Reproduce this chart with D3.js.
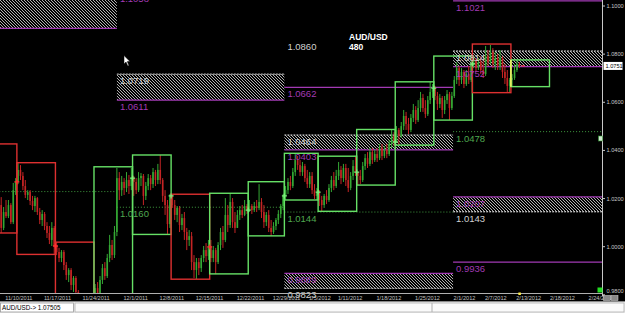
<!DOCTYPE html>
<html>
<head>
<meta charset="utf-8">
<title>AUD/USD 480</title>
<script src="https://cdn.jsdelivr.net/npm/d3@7"></script>
<style>
  html, body { margin: 0; padding: 0; background: #000; overflow: hidden; }
  svg { display: block; }
</style>
</head>
<body>
<div id="chart"></div>
<script>
// AUD/USD, 480 minute (8h) candles. bar 0 = first bar on screen (11/10/2011)
const firstOpen = 1.0173;

const closes = [
  1.0078, 1.0144, 1.0127, 1.0173, 1.0102, 1.0235, 1.0269,
  1.0319, 1.0294, 1.0252, 1.0215, 1.0227, 1.0190, 1.0169, 1.0202, 1.0144, 1.0111, 1.0136, 1.0086, 1.0057, 1.0028, 1.0078, 1.0003,
  0.9978, 0.9953, 0.9978, 0.9924, 0.9882, 0.9903, 0.9841, 0.9870, 0.9812, 0.9778, 0.9729, 0.9704, 0.9737, 0.9675, 0.9716, 0.9695,
  0.9828, 0.9807, 0.9862, 0.9911, 0.9878, 0.9953, 1.0007, 0.9965, 1.0061, 1.0285, 1.0235, 1.0269, 1.0244, 1.0277, 1.0252, 1.0285,
  1.0269, 1.0235, 1.0285, 1.0294, 1.0211, 1.0252, 1.0285, 1.0260, 1.0310, 1.0277, 1.0319, 1.0277, 1.0211, 1.0173, 1.0094, 1.0211,
  1.0173, 1.0132, 1.0161, 1.0090, 1.0119, 1.0061, 1.0028, 1.0044, 0.9936, 0.9903, 0.9936, 0.9911, 0.9953, 0.9986, 0.9961, 0.9999,
  0.9953, 0.9986, 0.9936, 1.0007, 1.0061, 1.0028, 1.0132, 1.0090, 1.0186, 1.0102, 1.0078, 1.0132, 1.0152, 1.0132, 1.0169, 1.0152,
  1.0169, 1.0152, 1.0169, 1.0161, 1.0186, 1.0144, 1.0102, 1.0132, 1.0078, 1.0061, 1.0086, 1.0111, 1.0136, 1.0169, 1.0211,
  1.0235, 1.0269, 1.0252, 1.0310, 1.0360, 1.0339, 1.0310, 1.0335, 1.0285, 1.0260, 1.0294, 1.0235, 1.0211, 1.0227,
  1.0194, 1.0173, 1.0211, 1.0194, 1.0244, 1.0277, 1.0252, 1.0294, 1.0319, 1.0285, 1.0327, 1.0277, 1.0244, 1.0294, 1.0335, 1.0310,
  1.0294, 1.0277, 1.0335, 1.0368, 1.0344, 1.0393, 1.0360, 1.0385, 1.0368, 1.0410, 1.0377, 1.0402, 1.0385, 1.0427, 1.0460, 1.0435,
  1.0485, 1.0460, 1.0501, 1.0543, 1.0510, 1.0485, 1.0535, 1.0568, 1.0526, 1.0576, 1.0618, 1.0576, 1.0551, 1.0609, 1.0643, 1.0659,
  1.0626, 1.0593, 1.0618, 1.0568, 1.0609, 1.0634, 1.0576, 1.0626, 1.0693, 1.0742, 1.0693, 1.0726, 1.0676, 1.0717, 1.0693, 1.0759,
  1.0776, 1.0742, 1.0767, 1.0734, 1.0717, 1.0792, 1.0767, 1.0809, 1.0759, 1.0784, 1.0751, 1.0784, 1.0726, 1.0701, 1.0668, 1.0693,
  1.0701, 1.0734, 1.0759, 1.0751
];

const highs = [
  1.0206, 1.0165, 1.0194, 1.0194, 1.0181, 1.0265, 1.0285,
  1.0348, 1.0339, 1.0310, 1.0277, 1.0235, 1.0235, 1.0211, 1.0211, 1.0206, 1.0161, 1.0152, 1.0144, 1.0102, 1.0086, 1.0102, 1.0086,
  1.0019, 0.9995, 0.9986, 0.9986, 0.9936, 0.9911, 0.9911, 0.9878, 0.9878, 0.9820, 0.9787, 0.9758, 0.9753, 0.9745, 0.9729, 0.9737,
  0.9845, 0.9853, 0.9878, 0.9928, 0.9936, 0.9970, 1.0049, 1.0028, 1.0086, 1.0327, 1.0310, 1.0294, 1.0285, 1.0310, 1.0298, 1.0327,
  1.0294, 1.0285, 1.0310, 1.0306, 1.0302, 1.0269, 1.0302, 1.0298, 1.0327, 1.0319, 1.0344, 1.0381, 1.0285, 1.0235, 1.0194, 1.0219,
  1.0218, 1.0194, 1.0169, 1.0169, 1.0136, 1.0144, 1.0078, 1.0069, 1.0061, 0.9965, 0.9953, 0.9953, 0.9965, 1.0003, 1.0015, 1.0028,
  1.0028, 1.0003, 0.9995, 1.0019, 1.0078, 1.0086, 1.0202, 1.0173, 1.0222, 1.0202, 1.0144, 1.0152, 1.0169, 1.0173, 1.0194, 1.0177,
  1.0194, 1.0177, 1.0186, 1.0194, 1.0260, 1.0202, 1.0173, 1.0144, 1.0152, 1.0111, 1.0102, 1.0119, 1.0152, 1.0177, 1.0219,
  1.0252, 1.0285, 1.0294, 1.0327, 1.0385, 1.0377, 1.0360, 1.0352, 1.0344, 1.0319, 1.0310, 1.0310, 1.0260, 1.0244,
  1.0235, 1.0211, 1.0219, 1.0235, 1.0260, 1.0294, 1.0310, 1.0319, 1.0352, 1.0335, 1.0344, 1.0344, 1.0327, 1.0310, 1.0360, 1.0373,
  1.0310, 1.0319, 1.0352, 1.0385, 1.0393, 1.0410, 1.0410, 1.0402, 1.0410, 1.0427, 1.0427, 1.0418, 1.0427, 1.0443, 1.0485, 1.0476,
  1.0501, 1.0493, 1.0518, 1.0568, 1.0560, 1.0535, 1.0551, 1.0593, 1.0584, 1.0609, 1.0643, 1.0634, 1.0609, 1.0626, 1.0684, 1.0676,
  1.0668, 1.0643, 1.0634, 1.0626, 1.0626, 1.0651, 1.0643, 1.0643, 1.0709, 1.0767, 1.0751, 1.0742, 1.0734, 1.0734, 1.0751, 1.0792,
  1.0792, 1.0784, 1.0784, 1.0792, 1.0776, 1.0834, 1.0817, 1.0838, 1.0825, 1.0809, 1.0801, 1.0817, 1.0792, 1.0759, 1.0734, 1.0701,
  1.0717, 1.0759, 1.0776, 1.0767
];

const lows = [
  1.0057, 1.0069, 1.0119, 1.0119, 1.0094, 1.0094, 1.0215,
  1.0260, 1.0277, 1.0235, 1.0202, 1.0194, 1.0173, 1.0152, 1.0144, 1.0132, 1.0094, 1.0086, 1.0069, 1.0036, 1.0011, 1.0003, 0.9970,
  0.9965, 0.9936, 0.9936, 0.9903, 0.9862, 0.9853, 0.9820, 0.9812, 0.9778, 0.9753, 0.9704, 0.9675, 0.9687, 0.9654, 0.9662, 0.9670,
  0.9680, 0.9787, 0.9795, 0.9845, 0.9862, 0.9870, 0.9936, 0.9945, 0.9953, 1.0044, 1.0194, 1.0211, 1.0215, 1.0227, 1.0219, 1.0235,
  1.0211, 1.0219, 1.0227, 1.0252, 1.0173, 1.0194, 1.0235, 1.0235, 1.0244, 1.0252, 1.0260, 1.0260, 1.0186, 1.0132, 1.0053, 1.0078,
  1.0161, 1.0111, 1.0102, 1.0061, 1.0069, 1.0028, 0.9986, 1.0003, 0.9903, 0.9870, 0.9866, 0.9882, 0.9895, 0.9936, 0.9936, 0.9945,
  0.9936, 0.9936, 0.9886, 0.9928, 0.9986, 0.9995, 1.0019, 1.0061, 1.0078, 1.0078, 1.0057, 1.0078, 1.0111, 1.0119, 1.0127, 1.0136,
  1.0144, 1.0136, 1.0144, 1.0144, 1.0152, 1.0119, 1.0078, 1.0086, 1.0061, 1.0044, 1.0053, 1.0069, 1.0094, 1.0119, 1.0152,
  1.0194, 1.0219, 1.0235, 1.0244, 1.0294, 1.0319, 1.0294, 1.0294, 1.0269, 1.0244, 1.0244, 1.0219, 1.0198, 1.0194,
  1.0169, 1.0148, 1.0161, 1.0177, 1.0186, 1.0227, 1.0235, 1.0244, 1.0277, 1.0260, 1.0269, 1.0252, 1.0227, 1.0235, 1.0277, 1.0294,
  1.0256, 1.0260, 1.0269, 1.0319, 1.0327, 1.0335, 1.0344, 1.0352, 1.0352, 1.0360, 1.0360, 1.0368, 1.0368, 1.0377, 1.0410, 1.0418,
  1.0430, 1.0422, 1.0452, 1.0485, 1.0485, 1.0468, 1.0476, 1.0518, 1.0510, 1.0518, 1.0560, 1.0560, 1.0535, 1.0543, 1.0593, 1.0618,
  1.0609, 1.0568, 1.0576, 1.0535, 1.0551, 1.0593, 1.0526, 1.0568, 1.0618, 1.0676, 1.0668, 1.0676, 1.0659, 1.0668, 1.0676, 1.0684,
  1.0742, 1.0726, 1.0734, 1.0717, 1.0701, 1.0709, 1.0751, 1.0759, 1.0742, 1.0734, 1.0734, 1.0734, 1.0701, 1.0676, 1.0643, 1.0643,
  1.0663, 1.0693, 1.0726, 1.0742
];

// weekly range boxes
const weekStart = [-9, 7, 23, 39, 55, 71, 87, 103, 118, 132, 148, 164, 180, 196, 212];
const weekEnd   = [7, 23, 39, 55, 71, 87, 103, 118, 132, 148, 164, 180, 196, 212, 228];
const weekHigh  = [1.0427, 1.0349, 1.0019, 1.0332, 1.0381, 1.0218, 1.0222, 1.0270, 1.0388, 1.0376, 1.0487, 1.0685, 1.0792, 1.0842, 1.0776];
const weekLow   = [1.0057, 0.9968, 0.9654, 0.9680, 1.0051, 0.9865, 0.9887, 1.0045, 1.0194, 1.0147, 1.0256, 1.0422, 1.0526, 1.0640, 1.0665];
const weekUp    = [false, false, false, true, true, false, true, true, true, true, true, true, true, false, true];

// monthly level blocks (bar ranges)
const monthStart = [-9, 48.5, 118, 188];
const monthEnd   = [48.5, 118, 188, 250];

// hatched zones
const zoneMonth  = [0, 1, 2, 2, 3, 3];
const zoneTop    = [1.1080, 1.0717, 1.0464, 0.9889, 1.0813, 1.0207];
const zoneBottom = [1.0907, 1.0609, 1.0402, 0.9827, 1.0748, 1.0145];
const zoneKind   = ["res", "res", "res", "sup", "res", "sup"];
const zoneTopLabel    = ["", "1.0719", "1.0464", "0.9889", "1.0814", "1.0207"];
const zoneBottomLabel = ["", "1.0611", "1.0403", "0.9823", "1.0752", "1.0143"];

// single magenta levels
const lineMonth = [1, 2, 3, 3];
const linePrice = [1.1058, 1.0662, 1.1021, 0.9936];
const lineLabel = ["1.1058", "1.0662", "1.1021", "0.9936"];

// dotted green pivots
const pivotMonth = [0, 1, 2, 3];
const pivotPrice = [1.0229, 1.0164, 1.0144, 1.0478];
const pivotLabel = ["", "1.0160", "1.0144", "1.0478"];

// white level with only a label showing
const whiteMonth = [2];
const whitePrice = [1.0860];
const whiteLabel = ["1.0860"];

const priceTicks = [0.98, 1.00, 1.02, 1.04, 1.06, 1.08, 1.10];
const dateTickBars = [2, 18, 34, 51, 66, 81, 98, 113, 128, 140, 156, 172, 188, 201, 214, 228, 244];
const dateTickLabels = ["11/10/2011", "11/17/2011", "11/24/2011", "12/1/2011", "12/8/2011", "12/15/2011",
  "12/22/2011", "12/29/2011", "1/5/2012", "1/11/2012", "1/18/2012", "1/25/2012", "2/1/2012",
  "2/7/2012", "2/13/2012", "2/18/2012", "2/24/2012"];
const lastQuote = "1.07505";

function renderChart() {

    if (closes.length !== highs.length || closes.length !== lows.length) {
        console.error("bar arrays are not the same length", closes.length, highs.length, lows.length);
    }

    const W = 625, H = 313;
    const plotR = 602.5, plotB = 293;

    const x = d3.scaleLinear().domain([0, 250]).range([0, plotR]);
    const y = d3.scaleLinear().domain([1.0, 1.1]).range([246.7, 6]);

    const magenta = "#a23ab4";
    const greenDot = "#3f9a3f";
    const labelFont = "'Liberation Sans', Arial, sans-serif";

    const svg = d3.select("#chart").append("svg")
        .attr("width", W)
        .attr("height", H);

    svg.append("rect").attr("width", W).attr("height", H).attr("fill", "#000");

    const defs = svg.append("defs");
    defs.append("clipPath").attr("id", "plot")
        .append("rect").attr("width", plotR).attr("height", plotB);

    // backslash hatch for the zones
    const pat = defs.append("pattern")
        .attr("id", "hatch")
        .attr("patternUnits", "userSpaceOnUse")
        .attr("width", 3)
        .attr("height", 3);
    pat.append("path")
        .attr("d", "M-1,-1L4,4M-1,2L1,4M2,-1L4,1")
        .attr("stroke", "#c4c4c4")
        .attr("stroke-width", 0.9);

    const g = svg.append("g").attr("clip-path", "url(#plot)");
    const labels = svg.append("g").attr("font-family", labelFont).attr("font-size", 9.5);

    // hatched zones
    zoneTop.forEach((top, k) => {
        const m = zoneMonth[k];
        const x0 = x(monthStart[m]), x1 = x(monthEnd[m]);
        const yt = y(top), yb = y(zoneBottom[k]);
        const res = zoneKind[k] === "res";
        g.append("rect")
            .attr("x", x0).attr("y", yt)
            .attr("width", x1 - x0).attr("height", yb - yt)
            .attr("fill", "url(#hatch)");
        const whiteY = res ? yt : yb, magY = res ? yb : yt;
        g.append("line")
            .attr("x1", x0).attr("x2", x1).attr("y1", whiteY).attr("y2", whiteY)
            .attr("stroke", "#dcdcdc").attr("stroke-dasharray", "2,1");
        g.append("line")
            .attr("x1", x0).attr("x2", x1).attr("y1", magY).attr("y2", magY)
            .attr("stroke", magenta).attr("stroke-width", 1.2);
        if (zoneTopLabel[k]) {
            labels.append("text")
                .attr("x", x0 + 3).attr("y", yt + 10)
                .attr("fill", res ? "#d0d0d0" : magenta)
                .text(zoneTopLabel[k]);
        }
        if (zoneBottomLabel[k]) {
            labels.append("text")
                .attr("x", x0 + 3).attr("y", yb + 10)
                .attr("fill", res ? magenta : "#d0d0d0")
                .text(zoneBottomLabel[k]);
        }
    });

    // magenta levels
    linePrice.forEach((p, k) => {
        const m = lineMonth[k];
        g.append("line")
            .attr("x1", x(monthStart[m])).attr("x2", x(monthEnd[m]))
            .attr("y1", y(p)).attr("y2", y(p))
            .attr("stroke", magenta).attr("stroke-width", 1.2);
        labels.append("text")
            .attr("x", x(monthStart[m]) + 3).attr("y", y(p) + 10)
            .attr("fill", magenta)
            .text(lineLabel[k]);
    });

    // dotted pivots
    pivotPrice.forEach((p, k) => {
        const m = pivotMonth[k];
        g.append("line")
            .attr("x1", x(monthStart[m])).attr("x2", x(monthEnd[m]))
            .attr("y1", y(p)).attr("y2", y(p))
            .attr("stroke", greenDot).attr("stroke-dasharray", "1,2");
        if (pivotLabel[k]) {
            labels.append("text")
                .attr("x", x(monthStart[m]) + 3).attr("y", y(p) + 10)
                .attr("fill", "#4fa84f")
                .text(pivotLabel[k]);
        }
    });

    whitePrice.forEach((p, k) => {
        labels.append("text")
            .attr("x", x(monthStart[whiteMonth[k]]) + 3).attr("y", y(p) + 10)
            .attr("fill", "#d0d0d0")
            .text(whiteLabel[k]);
    });

    // candles
    const bars = closes.map((c, i) => ({
        i: i,
        o: i === 0 ? firstOpen : closes[i - 1],
        h: highs[i],
        l: lows[i],
        c: c
    }));

    const candle = g.append("g").selectAll("g")
        .data(bars)
        .join("g")
        .attr("stroke", d => d.c >= d.o ? "#34a834" : "#c42424")
        .attr("fill", d => d.c >= d.o ? "#34a834" : "#c42424");

    candle.append("line")
        .attr("x1", d => x(d.i + 0.5)).attr("x2", d => x(d.i + 0.5))
        .attr("y1", d => y(d.h)).attr("y2", d => y(d.l))
        .attr("stroke-width", 1);

    candle.append("rect")
        .attr("x", d => x(d.i + 0.5) - 0.8)
        .attr("width", 1.6)
        .attr("y", d => y(Math.max(d.o, d.c)))
        .attr("height", d => Math.max(1, Math.abs(y(d.o) - y(d.c))))
        .attr("stroke", "none");

    // weekly boxes
    weekStart.forEach((s, k) => {
        const x0 = x(s), x1 = x(weekEnd[k]);
        g.append("rect")
            .attr("x", x0).attr("y", y(weekHigh[k]))
            .attr("width", x1 - x0).attr("height", y(weekLow[k]) - y(weekHigh[k]))
            .attr("fill", "none")
            .attr("stroke", weekUp[k] ? "#66e066" : "#dd3030")
            .attr("stroke-width", 1.4);
    });

    // current week's left edge in yellow
    const cw = weekStart.length - 1;
    g.append("line")
        .attr("x1", x(weekStart[cw])).attr("x2", x(weekStart[cw]))
        .attr("y1", y(weekHigh[cw])).attr("y2", y(weekLow[cw]))
        .attr("stroke", "#ffff66").attr("stroke-width", 1.4);

    // small crosses where a week closed
    for (let k = 1; k < weekStart.length - 1; k++) {
        const b = weekStart[k] - 1;
        if (b < 0) continue;
        const cx = x(weekStart[k]), cy = y(closes[b]);
        const col = weekUp[k - 1] ? "#7cf07c" : "#ff3030";
        g.append("path")
            .attr("d", `M${cx - 2.5},${cy}H${cx + 2.5}M${cx},${cy - 2.5}V${cy + 2.5}`)
            .attr("stroke", col).attr("stroke-width", 1.3);
    }

    // last bar tick
    const last = closes.length - 1;
    g.append("line")
        .attr("x1", x(last + 1) + 1).attr("x2", x(last + 1) + 4)
        .attr("y1", y(closes[last])).attr("y2", y(closes[last]))
        .attr("stroke", "#ff3344").attr("stroke-width", 1.2);

    // title
    svg.append("text")
        .attr("x", 349).attr("y", 40)
        .attr("font-family", labelFont).attr("font-weight", "bold").attr("font-size", 8.5)
        .attr("fill", "#fff")
        .text("AUD/USD");
    svg.append("text")
        .attr("x", 349).attr("y", 49.5)
        .attr("font-family", labelFont).attr("font-weight", "bold").attr("font-size", 8.5)
        .attr("fill", "#fff")
        .text("480");

    // mouse pointer that was on the screenshot
    svg.append("path")
        .attr("d", "M124,55.5L124,64L126,62L127.8,66L129,65.4L127.3,61.6L130,61.5Z")
        .attr("fill", "#fff").attr("stroke", "#000").attr("stroke-width", 0.5);

    // right price axis
    svg.append("line")
        .attr("x1", plotR).attr("x2", plotR).attr("y1", 0).attr("y2", 296)
        .attr("stroke", "#c8c8c8");
    const axisG = svg.append("g").attr("font-family", labelFont).attr("font-size", 5.6).attr("fill", "#c8c8c8");
    priceTicks.forEach(p => {
        const ty = Math.min(y(p), 291);
        svg.append("line")
            .attr("x1", plotR).attr("x2", plotR + 2.5).attr("y1", y(p)).attr("y2", y(p))
            .attr("stroke", "#c8c8c8");
        axisG.append("text")
            .attr("x", plotR + 4).attr("y", ty + 2)
            .text(d3.format(".4f")(p));
    });

    // current price box
    const yq = y(closes[last]);
    svg.append("rect")
        .attr("x", plotR + 1).attr("y", yq - 4)
        .attr("width", 19).attr("height", 8)
        .attr("fill", "#fff");
    svg.append("text")
        .attr("x", plotR + 3).attr("y", yq + 2)
        .attr("font-family", labelFont).attr("font-size", 5.6).attr("fill", "#000")
        .text(d3.format(".4f")(closes[last]));

    // bottom date axis
    svg.append("line")
        .attr("x1", 0).attr("x2", plotR).attr("y1", plotB + 0.5).attr("y2", plotB + 0.5)
        .attr("stroke", "#b0b0b0");
    const dateG = svg.append("g").attr("font-family", labelFont).attr("font-size", 5.6).attr("fill", "#c0c0c0");
    dateTickBars.forEach((b, k) => {
        dateG.append("text")
            .attr("x", x(b) + 0.5).attr("y", 300)
            .text(dateTickLabels[k]);
    });
    // yellow mark for the current bar
    svg.append("rect")
        .attr("x", x(last + 0.5) - 1).attr("y", plotB - 0.5)
        .attr("width", 2.5).attr("height", 2.5)
        .attr("fill", "#ffee44");

    // terminal bits in the corner
    svg.append("rect").attr("x", 597.5).attr("y", 287.5).attr("width", 5).attr("height", 5).attr("fill", "#22dd22");
    svg.append("rect").attr("x", 598.5).attr("y", 136).attr("width", 4).attr("height", 5)
        .attr("fill", "#cfe8cf").attr("stroke", "#2a8a2a").attr("stroke-width", 0.6);
    svg.append("rect").attr("x", 603.5).attr("y", 295.5).attr("width", 7).attr("height", 5)
        .attr("fill", "#888").attr("stroke", "#ddd").attr("stroke-width", 0.5);
    svg.append("rect").attr("x", 611).attr("y", 295.5).attr("width", 7).attr("height", 5)
        .attr("fill", "#888").attr("stroke", "#ddd").attr("stroke-width", 0.5);

    // status bar
    svg.append("rect").attr("x", 0).attr("y", 301.5).attr("width", W).attr("height", 12).attr("fill", "#ececec");
    svg.append("line").attr("x1", 0).attr("x2", W).attr("y1", 301.5).attr("y2", 301.5).attr("stroke", "#8a8a8a");
    svg.append("rect").attr("x", 0.5).attr("y", 303).attr("width", 73).attr("height", 9)
        .attr("fill", "#fff").attr("stroke", "#9a9a9a").attr("stroke-width", 0.8);
    svg.append("rect").attr("x", 75).attr("y", 303).attr("width", 549).attr("height", 9)
        .attr("fill", "#fafafa").attr("stroke", "#b0b0b0").attr("stroke-width", 0.8);
    svg.append("line").attr("x1", 432).attr("x2", 432).attr("y1", 303).attr("y2", 312).attr("stroke", "#b0b0b0");
    svg.append("text")
        .attr("x", 2).attr("y", 310.3)
        .attr("font-family", labelFont).attr("font-size", 6.3).attr("fill", "#000")
        .text("AUD/USD-> " + lastQuote);
}

renderChart();
</script>
</body>
</html>
